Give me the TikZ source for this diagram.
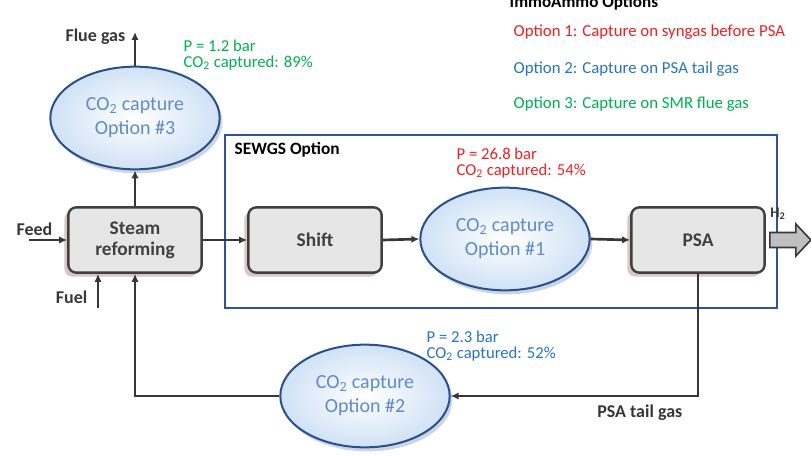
\documentclass[tikz,border=0pt]{standalone}
\usepackage{fontspec}
\setmainfont{Carlito}
\usetikzlibrary{arrows.meta,shapes.geometric,shadows}

\definecolor{optred}{RGB}{238,32,36}
\definecolor{optblue}{RGB}{40,115,190}
\definecolor{optgreen}{RGB}{0,176,80}
\definecolor{capblue}{RGB}{95,140,198}
\definecolor{capedge}{RGB}{40,80,140}
\definecolor{capfill}{RGB}{208,226,246}
\definecolor{boxfill}{RGB}{230,230,230}
\definecolor{boxedge}{RGB}{64,64,64}
\definecolor{sewgsblue}{RGB}{47,84,150}
\definecolor{flowgray}{RGB}{55,55,55}

\begin{document}
\begin{tikzpicture}[x=0.75pt,y=-0.75pt,
    unit/.style={draw=boxedge,line width=1.8pt,rounded corners=6pt,fill=boxfill,
        minimum width=100pt,minimum height=49pt,align=center,text=boxedge,
        font=\fontsize{14.5}{16}\selectfont\bfseries,
        drop shadow={shadow xshift=-3pt,shadow yshift=-3pt,fill={rgb,255:red,175;green,125;blue,125},opacity=.45}},
    capture/.style={ellipse,draw=capedge,line width=1.5pt,inner color=white,outer color=capfill,
        minimum width=127pt,minimum height=77pt,align=center,text=capblue,
        font=\fontsize{15}{18}\selectfont,
        drop shadow={shadow xshift=2pt,shadow yshift=-3pt,fill=capedge!70,opacity=.35}},
    flow/.style={draw=flowgray,line width=2pt,-{Latex[length=6pt,width=5.5pt]}},
    tag/.style={font=\fontsize{13.5}{16}\selectfont\bfseries,text=flowgray},
    cond/.style={anchor=west,align=left,font=\fontsize{12.5}{12}\selectfont}]

    \useasboundingbox (0,0) rectangle (811,456);

    % legend
    \node[anchor=base west,font=\fontsize{12.8}{15}\selectfont\bfseries] (title) at (505,8) {ImmoAmmo Options};
    \foreach \i/\y/\c/\t in {1/32/optred/syngas before PSA,2/69/optblue/PSA tail gas,3/104/optgreen/SMR flue gas}
        \node[anchor=west,text=\c,font=\fontsize{12.6}{15}\selectfont] (opt\i) at (509,\y) {Option \i: Capture on \t};

    % SEWGS frame
    \draw[sewgsblue,line width=1.8pt] (225,135) rectangle (777,308);
    \node[anchor=west,font=\fontsize{13}{15}\selectfont\bfseries] (sewgs) at (230,150) {SEWGS Option};

    % units
    \node[unit] (sr) at (135,240) {Steam\\reforming};
    \node[unit] (shift) at (315,240) {Shift};
    \node[unit] (psa) at (698,240) {PSA};
    \node[capture] (cc3) at (135,118) {CO\textsubscript{2} capture\\Option \#3};
    \node[capture] (cc1) at (505,239) {CO\textsubscript{2} capture\\Option \#1};
    \node[capture] (cc2) at (365,396) {CO\textsubscript{2} capture\\Option \#2};

    % conditions
    \node[cond,text=optgreen] (p3) at (179,55) {P = 1.2 bar\\CO\textsubscript{2} captured: 89\%};
    \node[cond,text=optred] (p1) at (452,163) {P = 26.8 bar\\CO\textsubscript{2} captured: 54\%};
    \node[cond,text=optblue] (p2) at (422,346) {P = 2.3 bar\\CO\textsubscript{2} captured: 52\%};

    % streams
    \coordinate (flue) at (135,32);
    \coordinate (feed) at (29,240);
    \coordinate (fuel) at (98,308);
    \draw[flow] (cc3.north) -- (flue);
    \draw[flow] (sr.north) -- (cc3.south);
    \draw[flow] (feed) -- (sr.west);
    \draw[flow] (fuel) -- (fuel |- sr.south);
    \draw[flow] (sr.east) -- (shift.west);
    \draw[flow] (shift.east) -- (cc1.west);
    \draw[flow] (cc1.east) -- (psa.west);
    \draw[flow] (psa.south) |- (cc2.east);
    \draw[flow] (cc2.west) -| (sr.south);

    \node[tag,anchor=east] (fluelbl) at (130,37) {Flue gas};
    \node[tag,anchor=east] (feedlbl) at (57,229) {Feed};
    \node[tag,anchor=east] (fuellbl) at (92,297) {Fuel};
    \node[tag,anchor=east] (taillbl) at (687,413) {PSA tail gas};

    % hydrogen product
    \coordinate (h2) at ([xshift=3pt]psa.east);
    \draw[draw=flowgray,line width=1.2pt,fill=black!25] (h2) ++(0,-7.5) -- ++(26,0) -- ++(0,-8.5)
        -- ++(15,16) -- ++(-15,16) -- ++(0,-8.5) -- ++(-26,0) -- cycle;
    \node[font=\fontsize{11}{13}\selectfont\bfseries,text=flowgray] (h2lbl) at (778,214) {H\textsubscript{2}};
\end{tikzpicture}
\end{document}
